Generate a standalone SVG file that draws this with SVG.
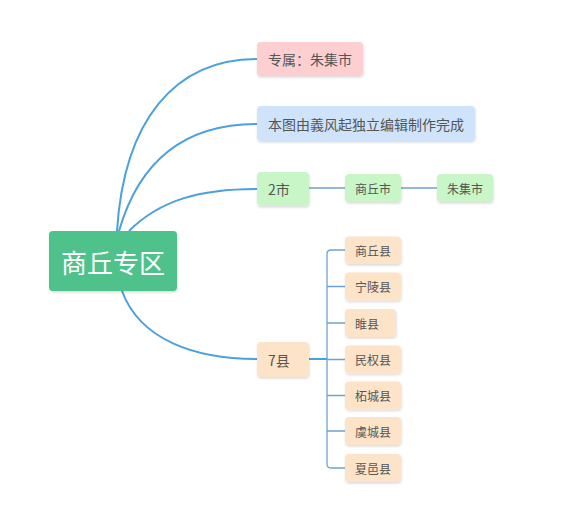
<svg xmlns="http://www.w3.org/2000/svg" width="571" height="514" viewBox="0 0 571 514">
<defs>
<filter id="sh" x="-10%" y="-10%" width="130%" height="140%">
<feDropShadow dx="0.5" dy="1.5" stdDeviation="1" flood-color="#000" flood-opacity="0.15"/>
</filter>
<style>
text{font-family:"Noto Sans CJK SC","Liberation Sans",sans-serif;fill:#555;font-size:12px;text-anchor:middle;dominant-baseline:central}
text.l{font-size:14px;text-anchor:start}
.n rect{filter:url(#sh)}
.pink{fill:#fdcfd0}
.blue{fill:#cfe4fb}
.grn{fill:#c8f6c6}
.peach{fill:#fde3c8}
.main{fill:none;stroke:#4ba0de;stroke-width:2}
.sub{fill:none;stroke:#6fa3cf;stroke-width:1.3}
</style>
</defs>
<rect width="571" height="514" fill="#fff"/>
<g id="connectors">
<path class="main" d="M117,231 C124,120 175,59 257,59"/>
<path class="main" d="M119,231 C138,165 180,124 257,124"/>
<path class="main" d="M129,231 C160,200 200,189 257,189"/>
<path class="main" d="M122,291 C140,340 195,359 257,359"/>
<path class="sub" d="M309,188 H345 M401,188 H437"/>
<path class="main" d="M309,359 H327"/>
<path class="sub" d="M345,250 H331 Q327,250 327,254 V464 Q327,468 331,468 H345"/>
<path class="sub" d="M327,286.5 H345 M327,323 H345 M327,359.5 H345 M327,395.5 H345 M327,431 H345"/>
</g>
<g id="root" class="n"><rect x="49" y="231" width="128" height="60" rx="4" fill="#50c18a"/><text x="113" y="261" style="fill:#fff;font-size:26px">商丘专区</text></g>
<g id="n1" class="n"><rect x="257" y="42" width="106" height="34" rx="4" class="pink"/><text class="l" x="268" y="59">专属：朱集市</text></g>
<g id="n2" class="n"><rect x="257" y="106" width="218" height="35" rx="4" class="blue"/><text class="l" x="268" y="123.5">本图由義风起独立编辑制作完成</text></g>
<g id="n3" class="n"><rect x="257" y="172" width="52" height="34" rx="4" class="grn"/><text class="l" x="268" y="189">2市</text></g>
<g id="n3a" class="n"><rect x="345" y="174" width="56" height="28" rx="4" class="grn"/><text x="373" y="188">商丘市</text></g>
<g id="n3b" class="n"><rect x="437" y="174" width="56" height="28" rx="4" class="grn"/><text x="465" y="188">朱集市</text></g>
<g id="n4" class="n"><rect x="257" y="342" width="52" height="35" rx="4" class="peach"/><text class="l" x="268" y="359.5">7县</text></g>
<g id="c1" class="n"><rect x="345" y="236.5" width="56" height="27.5" rx="4" class="peach"/><text x="373" y="250">商丘县</text></g>
<g id="c2" class="n"><rect x="345" y="272.5" width="56" height="28" rx="4" class="peach"/><text x="373" y="286.5">宁陵县</text></g>
<g id="c3" class="n"><rect x="345" y="309" width="51" height="28" rx="4" class="peach"/><text x="367" y="323">睢县</text></g>
<g id="c4" class="n"><rect x="345" y="345.5" width="56" height="28" rx="4" class="peach"/><text x="373" y="359.5">民权县</text></g>
<g id="c5" class="n"><rect x="345" y="381.5" width="56" height="28" rx="4" class="peach"/><text x="373" y="395.5">柘城县</text></g>
<g id="c6" class="n"><rect x="345" y="417" width="56" height="28" rx="4" class="peach"/><text x="373" y="431">虞城县</text></g>
<g id="c7" class="n"><rect x="345" y="454" width="56" height="28" rx="4" class="peach"/><text x="373" y="468">夏邑县</text></g>
</svg>
